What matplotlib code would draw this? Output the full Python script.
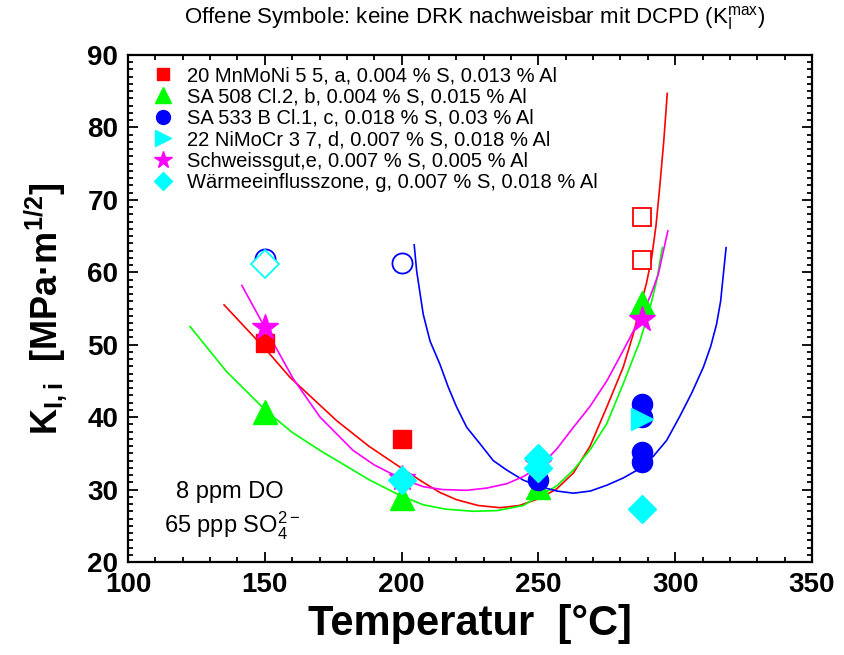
import matplotlib

matplotlib.use("Agg")
import matplotlib.pyplot as plt
from matplotlib.lines import Line2D
from matplotlib.ticker import MultipleLocator

# measured points: temperature [°C] vs. K_I,i [MPa m^1/2]
red_T = [150, 200]
red_K = [50.3, 37.0]
red_open_T = [288, 288]
red_open_K = [67.7, 61.7]

green_T = [150, 200, 250, 288]
green_K = [40.7, 28.8, 30.4, 55.8]

blue_T = [250, 288, 288, 288, 288]
blue_K = [31.3, 41.8, 40.0, 35.2, 33.8]
blue_open_T = [150, 200]
blue_open_K = [61.9, 61.3]

cyan_tri_T = [288]
cyan_tri_K = [39.7]

star_T = [150, 200, 250, 288]
star_K = [52.4, 31.6, 33.5, 53.5]

diamond_T = [200, 250, 250, 288]
diamond_K = [31.3, 34.3, 33.0, 27.3]
diamond_open_T = [150]
diamond_open_K = [61.1]

# fit curves
red_fit_T = [135.1, 150.7, 159.2, 176.3, 188.0, 199.4, 207.9, 214.0, 220.1, 228.0,
             236.0, 243.0, 250.6, 256.7, 262.8, 268.9, 275.0, 281.0, 284.7, 287.1,
             289.5, 291.4, 293.0, 294.4, 295.8, 297.1]
red_fit_K = [55.5, 49.2, 45.5, 39.5, 36.0, 33.1, 31.0, 29.6, 28.6, 27.8,
             27.5, 27.8, 28.8, 30.1, 32.3, 36.0, 41.4, 46.9, 51.5, 55.1,
             58.5, 62.0, 66.5, 72.0, 78.0, 84.7]

green_fit_T = [122.7, 136.0, 150.4, 160.0, 170.2, 188.4, 199.4, 207.9, 216.0, 226.2,
               235.0, 244.5, 250.6, 256.7, 262.8, 268.9, 275.0, 281.0, 287.1, 290.8,
               293.2, 295.3]
green_fit_K = [52.5, 46.3, 40.9, 37.9, 35.4, 31.3, 29.2, 27.9, 27.3, 27.0,
               27.1, 27.8, 29.2, 30.5, 32.7, 35.5, 39.1, 44.6, 50.5, 55.1,
               58.8, 63.4]

blue_fit_T = [204.6, 205.5, 207.9, 210.4, 214.0, 217.1, 220.1, 223.8, 228.7, 233.5,
              238.4, 244.5, 250.6, 256.7, 262.8, 269.0, 275.0, 281.0, 287.1, 292.0,
              296.9, 301.8, 306.0, 310.3, 313.0, 315.1, 316.6, 317.6, 318.6]
blue_fit_K = [63.8, 60.2, 54.2, 50.5, 47.3, 44.1, 41.4, 38.6, 36.3, 34.0,
              32.7, 31.3, 30.4, 29.8, 29.5, 29.8, 30.6, 31.6, 32.9, 34.6,
              36.8, 40.2, 43.3, 46.9, 49.8, 52.8, 56.0, 59.7, 63.4]

magenta_fit_T = [141.6, 150.7, 160.4, 170.2, 182.3, 190.0, 199.4, 207.9, 215.0, 223.8,
                 231.0, 238.4, 244.5, 250.6, 256.7, 262.8, 268.9, 275.0, 281.0, 287.1,
                 291.0, 293.8, 297.3]
magenta_fit_K = [58.2, 51.9, 45.3, 40.0, 35.4, 33.4, 31.6, 30.4, 30.0, 29.9,
                 30.2, 30.8, 31.8, 33.2, 35.6, 38.6, 41.5, 45.0, 49.2, 53.6,
                 56.8, 59.7, 65.7]

labels = [
    "20 MnMoNi 5 5, a, 0.004 % S, 0.013 % Al",
    "SA 508 Cl.2, b, 0.004 % S, 0.015 % Al",
    "SA 533 B Cl.1, c, 0.018 % S, 0.03 % Al",
    "22 NiMoCr 3 7, d, 0.007 % S, 0.018 % Al",
    "Schweissgut,e, 0.007 % S, 0.005 % Al",
    "Wärmeeinflusszone, g, 0.007 % S, 0.018 % Al",
]

RED, GREEN, BLUE, CYAN, MAGENTA = "#ff0000", "#00ff00", "#0000ff", "#00ffff", "#ff00ff"
FONT = ["Liberation Sans", "DejaVu Sans"]

plt.rcParams["font.family"] = FONT
plt.rcParams["mathtext.fontset"] = "custom"

fig = plt.figure(figsize=(8.44, 6.55), dpi=100)
ax = fig.add_axes([128 / 844, 1 - 562 / 655, 684 / 844, 507 / 655])

lw = 1.2
ax.plot(red_fit_T, red_fit_K, color=RED, lw=lw)
ax.plot(green_fit_T, green_fit_K, color=GREEN, lw=lw)
ax.plot(blue_fit_T, blue_fit_K, color=BLUE, lw=lw)
ax.plot(magenta_fit_T, magenta_fit_K, color=MAGENTA, lw=lw)

ax.plot(red_T, red_K, "s", color=RED, ms=13)
ax.plot(red_open_T, red_open_K, "s", mfc="white", mec=RED, mew=1.3, ms=13)
ax.plot(green_T, green_K, "^", color=GREEN, ms=17)
ax.plot(blue_T, blue_K, "o", color=BLUE, ms=14.5)
ax.plot(blue_open_T, blue_open_K, "o", mfc="white", mec=BLUE, mew=1.3, ms=14.5)
ax.plot(cyan_tri_T, cyan_tri_K, ">", color=CYAN, ms=16)
ax.plot(star_T, star_K, "*", color=MAGENTA, ms=19)
ax.plot(diamond_T, diamond_K, "D", color=CYAN, ms=14.5)
ax.plot(diamond_open_T, diamond_open_K, "D", mfc="white", mec=CYAN, mew=1.3, ms=14.5)

ax.set_xlim(100, 350)
ax.set_ylim(20, 90)
ax.xaxis.set_major_locator(MultipleLocator(50))
ax.xaxis.set_minor_locator(MultipleLocator(10))
ax.yaxis.set_major_locator(MultipleLocator(10))
ax.yaxis.set_minor_locator(MultipleLocator(1))
ax.tick_params(which="both", direction="in", top=True, right=True, width=1.3)
ax.tick_params(which="major", length=7)
ax.tick_params(which="minor", length=3.5)
ax.tick_params(axis="x", pad=7.5)
ax.tick_params(axis="y", pad=7)
for s in ax.spines.values():
    s.set_linewidth(1.6)
for lab in ax.get_xticklabels() + ax.get_yticklabels():
    lab.set_fontweight("bold")
    lab.set_fontsize(20)

ax.set_xlabel("Temperatur  [°C]", weight="bold", fontsize=30, labelpad=4)
ax.set_ylabel(r"K$_\mathregular{I,i}$  [MPa·m$^\mathregular{1/2}$]",
              weight="bold", fontsize=26, labelpad=13)

handles = [
    Line2D([], [], ls="none", marker="s", color=RED, ms=8),
    Line2D([], [], ls="none", marker="^", color=GREEN, ms=11),
    Line2D([], [], ls="none", marker="o", color=BLUE, ms=10),
    Line2D([], [], ls="none", marker=">", color=CYAN, ms=11),
    Line2D([], [], ls="none", marker="*", color=MAGENTA, ms=13),
    Line2D([], [], ls="none", marker="D", color=CYAN, ms=9),
]
ax.legend(handles, labels, loc="upper left", bbox_to_anchor=(26 / 684, 1 - 11 / 507),
          frameon=False, borderpad=0, borderaxespad=0, handlelength=0.9,
          handletextpad=0.75, labelspacing=0.12, prop={"size": 14.5})

ax.text(0.149, 0.138, "8 ppm DO", transform=ax.transAxes, ha="center", va="center",
        fontsize=17)
ax.text(0.152, 0.072, r"65 ppp SO$_\mathregular{4}^\mathregular{2-}$", transform=ax.transAxes,
        ha="center", va="center", fontsize=17)

fig.text(475 / 844, 1 - 18 / 655,
         r"Offene Symbole: keine DRK nachweisbar mit DCPD (K$_\mathregular{I}^\mathregular{max}$)",
         ha="center", va="center", fontsize=16)

fig.savefig("out.png", dpi=100)
